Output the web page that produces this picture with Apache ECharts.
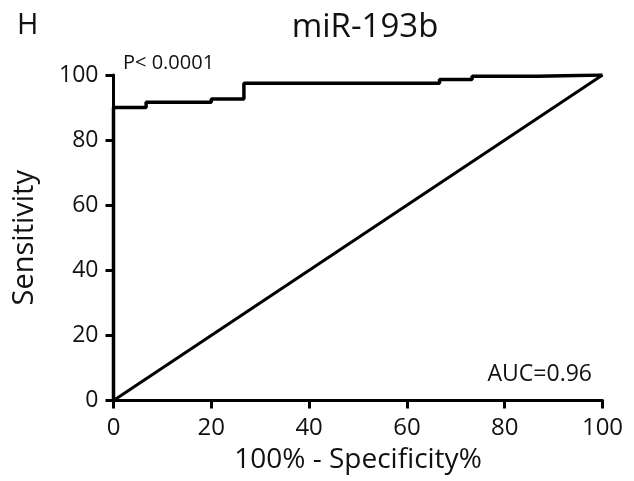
<!DOCTYPE html>
<html>
<head>
<meta charset="utf-8">
<script src="https://cdn.jsdelivr.net/npm/echarts@6/dist/echarts.min.js"></script>
<style>html,body{margin:0;padding:0;background:#fff}#c{width:634px;height:481px}</style>
</head>
<body>
<div id="c"></div>
<script>
const rocX = [0, 0, 6.67, 20, 26.67, 66.67, 73.33, 86.67, 100];
const rocY = [0, 90, 91.6, 92.6, 97.5, 98.6, 99.6, 100, 100];
const diagX = [0, 100];
const diagY = [0, 100];
const xTicks = [0, 20, 40, 60, 80, 100];
const yTicks = [0, 20, 40, 60, 80, 100];
const titleText = 'miR-193b';
const panelLabel = 'H';
const pText = 'P< 0.0001';
const aucText = 'AUC=0.96';

const font = '"Open Sans", "DejaVu Sans", sans-serif';
const chart = echarts.init(document.getElementById('c'), null, {renderer: 'canvas'});
const axisCommon = {
  min: 0, max: 100, interval: 20,
  axisLine: {show: true, lineStyle: {color: '#000', width: 3}},
  axisTick: {show: true, length: 8, lineStyle: {color: '#000', width: 3}},
  splitLine: {show: false},
  axisLabel: {color: '#111', fontSize: 24, fontFamily: font}
};
chart.setOption({
  animation: false,
  backgroundColor: '#fff',
  title: [
    {text: titleText, left: 360, top: 6, textAlign: 'center',
     textStyle: {fontSize: 33, fontWeight: 'normal', color: '#111', fontFamily: font}},
    {text: panelLabel, left: 12, top: 6,
     textStyle: {fontSize: 29, fontWeight: 'normal', color: '#111', fontFamily: font}}
  ],
  grid: {left: 113.5, right: 31.5, top: 75, bottom: 80.5},
  xAxis: Object.assign({}, axisCommon, {
    type: 'value',
    name: '100% - Specificity%', nameLocation: 'middle', nameGap: 46,
    nameTextStyle: {fontSize: 28, color: '#111', fontFamily: font},
    axisLabel: Object.assign({}, axisCommon.axisLabel, {margin: 16, fontSize: 24,
      formatter: v => xTicks.includes(v) ? String(v) : ''})
  }),
  yAxis: Object.assign({}, axisCommon, {
    type: 'value',
    name: 'Sensitivity', nameLocation: 'middle', nameGap: 74,
    nameTextStyle: {fontSize: 29, color: '#111', fontFamily: font},
    axisLabel: Object.assign({}, axisCommon.axisLabel, {margin: 15, fontSize: 23,
      formatter: v => yTicks.includes(v) ? String(v) : ''})
  }),
  series: [
    {type: 'line', data: diagX.map((x, i) => [x, diagY[i]]), symbol: 'none',
     lineStyle: {color: '#000', width: 3}},
    {type: 'line', step: 'end', data: rocX.map((x, i) => [x, rocY[i]]), symbol: 'none',
     lineStyle: {color: '#000', width: 3.5}}
  ],
  graphic: [
    {type: 'text', left: 123, top: 53,
     style: {text: pText, fontSize: 20, fill: '#111', fontFamily: font}},
    {type: 'text', right: 42, top: 363,
     style: {text: aucText, fontSize: 23, fill: '#111', fontFamily: font}}
  ]
});
</script>
</body>
</html>
